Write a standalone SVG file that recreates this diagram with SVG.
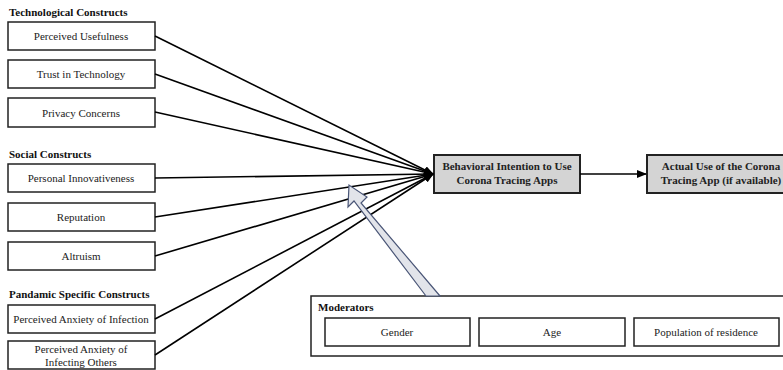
<svg xmlns="http://www.w3.org/2000/svg" width="783" height="370" viewBox="0 0 783 370">
<defs>
<style>
.box{fill:#fff;stroke:#222;stroke-width:1.5}
.gbox{fill:#d4d4d4;stroke:#222;stroke-width:2}
.ln{stroke:#000;stroke-width:1.6;fill:none}
</style>
<marker id="ah" markerWidth="10" markerHeight="8" refX="9" refY="4" orient="auto" markerUnits="userSpaceOnUse">
<path d="M0,0 L10,4 L0,8 Z" fill="#000"/>
</marker>
</defs>
<rect width="783" height="370" fill="#fff"/>
<g font-family="Liberation Serif" font-size="11" fill="#111" font-weight="bold">
<text x="9" y="16">Technological Constructs</text>
<text x="9" y="158">Social Constructs</text>
<text x="9" y="298">Pandamic Specific Constructs</text>
</g>
<g font-family="Liberation Serif" font-size="11" fill="#222" text-anchor="middle">
<g id="n1"><rect class="box" x="8" y="22" width="147" height="28"/><text x="81" y="40">Perceived Usefulness</text></g>
<g id="n2"><rect class="box" x="8" y="60" width="147" height="28"/><text x="81" y="78">Trust in Technology</text></g>
<g id="n3"><rect class="box" x="8" y="98" width="147" height="29"/><text x="81" y="117">Privacy Concerns</text></g>
<g id="n4"><rect class="box" x="8" y="164" width="147" height="28"/><text x="81" y="182">Personal Innovativeness</text></g>
<g id="n5"><rect class="box" x="8" y="203" width="147" height="28"/><text x="81" y="221">Reputation</text></g>
<g id="n6"><rect class="box" x="8" y="242" width="147" height="28"/><text x="81" y="260">Altruism</text></g>
<g id="n7"><rect class="box" x="8" y="305" width="147" height="28"/><text x="81" y="323">Perceived Anxiety of Infection</text></g>
<g id="n8"><rect class="box" x="8" y="341" width="147" height="28"/><text x="81" y="353">Perceived Anxiety of</text><text x="81" y="366">Infecting Others</text></g>
</g>
<g font-family="Liberation Serif" font-size="11" fill="#222" text-anchor="middle" font-weight="bold">
<g id="bi"><rect class="gbox" x="434" y="155" width="146" height="38"/><text x="507" y="170">Behavioral Intention to Use</text><text x="507" y="184">Corona Tracing Apps</text></g>
<g id="au"><rect class="gbox" x="647" y="155" width="150" height="38"/><text x="721" y="170">Actual Use of the Corona</text><text x="721" y="184">Tracing App (if available)</text></g>
</g>
<g id="mod" font-family="Liberation Serif" font-size="11" fill="#222">
<rect x="311" y="296" width="480" height="60" fill="#fff" stroke="#222" stroke-width="1.5"/>
<text x="318" y="311" font-weight="bold" fill="#111">Moderators</text>
<g text-anchor="middle">
<g id="m1"><rect class="box" x="325" y="318" width="145" height="28"/><text x="397" y="336">Gender</text></g>
<g id="m2"><rect class="box" x="479" y="318" width="146" height="28"/><text x="552" y="336">Age</text></g>
<g id="m3"><rect class="box" x="634" y="318" width="145" height="28"/><text x="706" y="336">Population of residence</text></g>
</g>
</g>
<g id="connectors">
<line class="ln" x1="155" y1="36" x2="433" y2="174" marker-end="url(#ah)"/>
<line class="ln" x1="155" y1="74" x2="433" y2="174" marker-end="url(#ah)"/>
<line class="ln" x1="155" y1="112" x2="433" y2="174" marker-end="url(#ah)"/>
<line class="ln" x1="155" y1="178" x2="433" y2="174" marker-end="url(#ah)"/>
<line class="ln" x1="155" y1="217" x2="433" y2="174" marker-end="url(#ah)"/>
<line class="ln" x1="155" y1="256" x2="433" y2="174" marker-end="url(#ah)"/>
<line class="ln" x1="155" y1="319" x2="433" y2="174" marker-end="url(#ah)"/>
<line class="ln" x1="155" y1="355" x2="433" y2="174" marker-end="url(#ah)"/>
<line class="ln" x1="580" y1="174" x2="646" y2="174" marker-end="url(#ah)"/>
<path d="M426,296 L440,296 L361,203 L367,197 L349,185 L348,207 L354,201 Z" fill="#e2e4ea" stroke="#4a5677" stroke-width="1.2" stroke-linejoin="miter"/>
</g>
</svg>
